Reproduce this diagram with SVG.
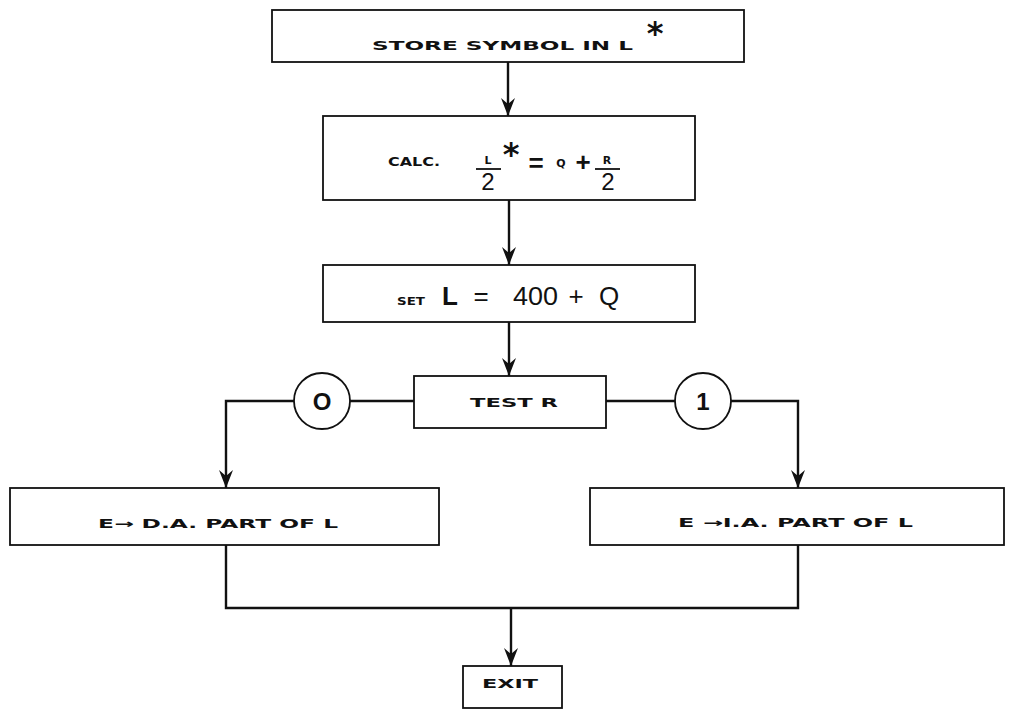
<svg xmlns="http://www.w3.org/2000/svg" width="1013" height="712" viewBox="0 0 1013 712">
<style>
.box{fill:none;stroke:#111;stroke-width:1.8}
.ln{fill:none;stroke:#111;stroke-width:2.4}
.t{font-family:"DejaVu Sans",sans-serif;font-weight:bold;font-size:12px;fill:#111}
.big{font-family:"Liberation Sans",Arial,sans-serif;font-size:26px;fill:#111}
.star{font-family:"DejaVu Sans",sans-serif;font-weight:bold;font-size:32px;fill:#111}
.circ{fill:#fff;stroke:#111;stroke-width:1.8}
.bar{stroke:#111;stroke-width:1.8}
</style>
<defs>
<marker id="ah" viewBox="0 -7 18 14" markerWidth="18" markerHeight="14" refX="18" refY="0" orient="auto" markerUnits="userSpaceOnUse">
<path d="M0,-7 L18,0 L0,7 L6,0 Z" fill="#111"/>
</marker>
</defs>
<rect width="1013" height="712" fill="#fff"/>
<g id="connectors">
<path class="ln" d="M508,62 V116" marker-end="url(#ah)"/>
<path class="ln" d="M509,200 V265" marker-end="url(#ah)"/>
<path class="ln" d="M509,322 V376" marker-end="url(#ah)"/>
<path class="ln" d="M414,401 H226 V488" marker-end="url(#ah)"/>
<path class="ln" d="M606,401 H798 V488" marker-end="url(#ah)"/>
<path class="ln" d="M226,545 V608 H798 V545"/>
<path class="ln" d="M511,608 V666" marker-end="url(#ah)"/>
</g>
<g id="store">
<rect class="box" x="272" y="10" width="472" height="52"/>
<text class="t" x="372" y="50" textLength="261" lengthAdjust="spacingAndGlyphs">STORE SYMBOL IN L</text>
<text class="star" x="655" y="44" text-anchor="middle">*</text>
</g>
<g id="calc">
<rect class="box" x="323" y="116" width="372" height="84"/>
<text class="t" x="388" y="166" textLength="52" lengthAdjust="spacingAndGlyphs">CALC.</text>
<text class="t" x="488" y="164" text-anchor="middle" style="font-size:11px">L</text>
<line class="bar" x1="476" y1="169" x2="501" y2="169"/>
<text class="big" x="488" y="190" text-anchor="middle" style="font-size:24px">2</text>
<text class="star" x="511" y="165" text-anchor="middle">*</text>
<text class="big" x="536" y="172" text-anchor="middle" style="font-weight:bold">=</text>
<text class="t" x="561" y="167" text-anchor="middle" style="font-size:11px">Q</text>
<text class="big" x="583" y="171" text-anchor="middle" style="font-weight:bold">+</text>
<text class="t" x="607" y="164" text-anchor="middle" style="font-size:11px">R</text>
<line class="bar" x1="595" y1="169" x2="620" y2="169"/>
<text class="big" x="608" y="190" text-anchor="middle" style="font-size:24px">2</text>
</g>
<g id="set">
<rect class="box" x="323" y="265" width="372" height="57"/>
<text class="t" x="397" y="305" textLength="28" lengthAdjust="spacingAndGlyphs" style="font-size:10px">SET</text>
<text class="big" x="442" y="305" style="font-weight:bold">L</text>
<text class="big" x="481" y="305" text-anchor="middle">=</text>
<text class="big" x="513" y="305" textLength="45" lengthAdjust="spacingAndGlyphs">400</text>
<text class="big" x="576" y="305" text-anchor="middle">+</text>
<text class="big" x="599" y="305">Q</text>
</g>
<g id="test">
<rect class="box" x="414" y="376" width="192" height="52"/>
<text class="t" x="470" y="407" textLength="88" lengthAdjust="spacingAndGlyphs">TEST R</text>
</g>
<g id="c0">
<circle class="circ" cx="322" cy="401" r="28"/>
<text class="big" x="322" y="410" text-anchor="middle" style="font-size:24px;font-weight:bold">O</text>
</g>
<g id="c1">
<circle class="circ" cx="703" cy="401" r="28"/>
<text class="big" x="703" y="410" text-anchor="middle" style="font-size:24px;font-weight:bold">1</text>
</g>
<g id="da">
<rect class="box" x="10" y="488" width="429" height="57"/>
<text class="t" x="98" y="528" textLength="240" lengthAdjust="spacingAndGlyphs">E→ D.A. PART OF L</text>
</g>
<g id="ia">
<rect class="box" x="590" y="488" width="414" height="57"/>
<text class="t" x="678" y="527" textLength="235" lengthAdjust="spacingAndGlyphs">E →I.A. PART OF L</text>
</g>
<g id="exit">
<rect class="box" x="463" y="666" width="99" height="42"/>
<text class="t" x="482" y="688" textLength="56" lengthAdjust="spacingAndGlyphs">EXIT</text>
</g>
</svg>
